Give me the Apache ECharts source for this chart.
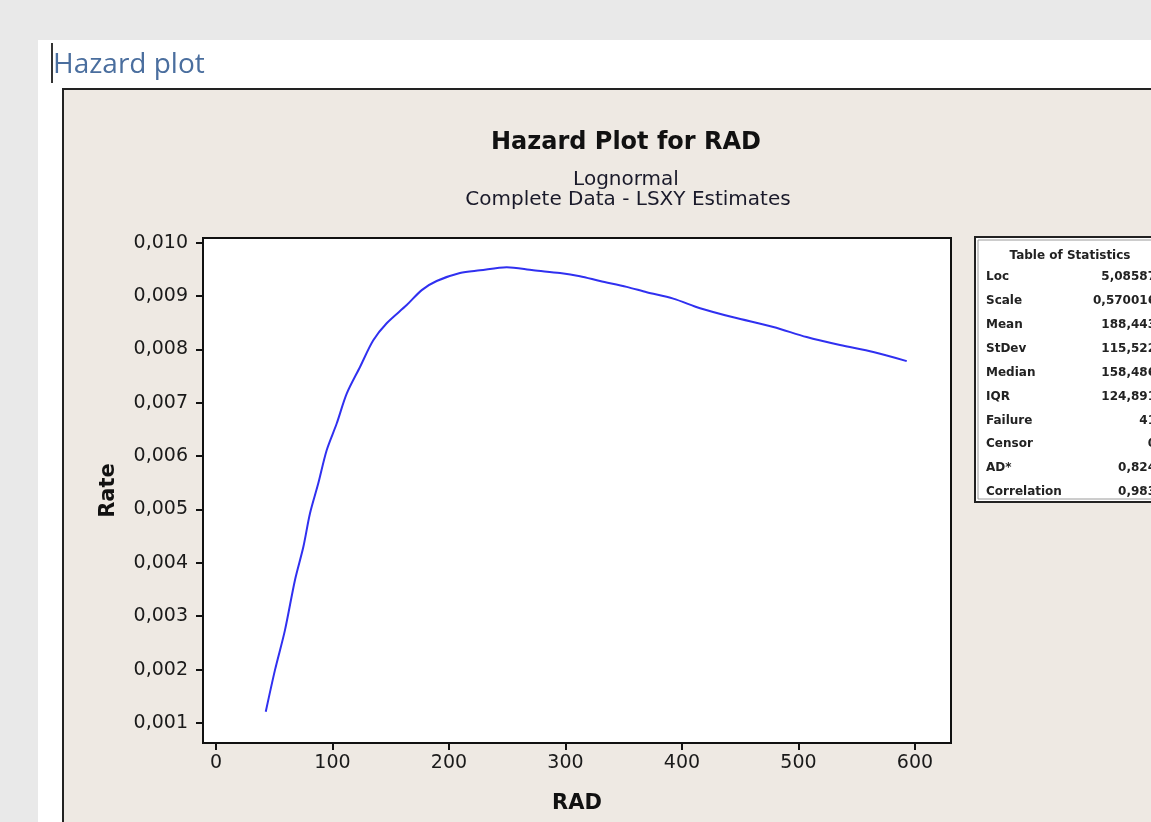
<!DOCTYPE html>
<html>
<head>
<meta charset="utf-8">
<title>Hazard plot</title>
<script src="https://cdn.jsdelivr.net/npm/echarts@6/dist/echarts.min.js"></script>
<style>
html,body{margin:0;padding:0;background:#e9e9e9;}
#chart{width:1151px;height:822px;}
</style>
</head>
<body>
<div id="chart"></div>
<script>
// hazard curve
var radValues  = [42.7, 50.6, 59.2, 67.8, 75, 80.7, 87.8, 95, 103.6, 112.2, 123.6, 135, 146.5, 163.7, 176.6, 189.4, 209.4, 226.6, 249.5, 272.4, 295.3, 312.4, 329.6, 352.5, 369.7, 392.5, 415.5, 444, 478.4, 507, 535.6, 564.2, 592.9];
var rateValues = [0.00121, 0.00199, 0.00274, 0.00368, 0.0043, 0.00493, 0.00549, 0.00611, 0.00661, 0.00717, 0.00767, 0.00817, 0.00849, 0.00883, 0.00911, 0.00928, 0.00943, 0.00948, 0.00954, 0.00948, 0.00943, 0.00937, 0.00928, 0.00917, 0.00907, 0.00895, 0.00877, 0.0086, 0.00842, 0.00823, 0.00808, 0.00795, 0.00778];

var xTicks = [0, 100, 200, 300, 400, 500, 600];
var yTicks = [0.001, 0.002, 0.003, 0.004, 0.005, 0.006, 0.007, 0.008, 0.009, 0.010];

// table of statistics
var statNames  = ['Loc', 'Scale', 'Mean', 'StDev', 'Median', 'IQR', 'Failure', 'Censor', 'AD*', 'Correlation'];
var statValues = ['5,08587', '0,570016', '188,443', '115,522', '158,486', '124,891', '41', '0', '0,824', '0,983'];

var myChart = echarts.init(document.getElementById('chart'));

var points = [];
for (var i = 0; i < radValues.length; i++) {
	points.push([radValues[i], rateValues[i]]);
}

var graphics = [
	// white panel
	{type:'rect', z:-3, shape:{x:38, y:40, width:1200, height:900}, style:{fill:'#ffffff'}},
	// caret
	{type:'rect', z:-2, shape:{x:51, y:43, width:2, height:40}, style:{fill:'#333333'}},
	{type:'text', z:-2, left:53, top:51, style:{text:'Hazard plot', font:'28px "Open Sans", sans-serif', fill:'#4a6e9e'}},
	// beige frame
	{type:'rect', z:-2, shape:{x:63, y:89, width:1200, height:900}, style:{fill:'#eee9e3', stroke:'#222222', lineWidth:2}},
	// titles
	{type:'text', z:1, x:626, y:143, style:{text:'Hazard Plot for RAD', font:'bold 24px "DejaVu Sans"', fill:'#111111', align:'center', verticalAlign:'middle'}},
	{type:'text', z:1, x:626, y:180, style:{text:'Lognormal', font:'20px "DejaVu Sans"', fill:'#1a1a2a', align:'center', verticalAlign:'middle'}},
	{type:'text', z:1, x:628, y:200, style:{text:'Complete Data - LSXY Estimates', font:'20px "DejaVu Sans"', fill:'#1a1a2a', align:'center', verticalAlign:'middle'}},
	// stats table box
	{type:'rect', z:1, shape:{x:975, y:237, width:200, height:265}, style:{fill:'#ffffff', stroke:'#222222', lineWidth:2}},
	{type:'rect', z:1, shape:{x:978, y:240, width:200, height:259}, style:{fill:'none', stroke:'#9a9a9a', lineWidth:1}},
	{type:'text', z:2, x:1070, y:256, style:{text:'Table of Statistics', font:'bold 12px "DejaVu Sans"', fill:'#222222', align:'center', verticalAlign:'middle'}}
];
for (var k = 0; k < statNames.length; k++) {
	var ty = 277 + k * 23.9;
	graphics.push({type:'text', z:2, x:986, y:ty, style:{text:statNames[k], font:'bold 12px "DejaVu Sans"', fill:'#222222', verticalAlign:'middle'}});
	graphics.push({type:'text', z:2, x:1156, y:ty, style:{text:statValues[k], font:'bold 12px "DejaVu Sans"', fill:'#222222', align:'right', verticalAlign:'middle'}});
}

var option = {
	animation: false,
	graphic: graphics,
	grid: {
		left: 203, top: 238, width: 748, height: 505,
		show: true,
		backgroundColor: '#ffffff',
		borderColor: '#111111',
		borderWidth: 2
	},
	xAxis: {
		type: 'value',
		min: -11.16,
		max: 630.9,
		name: 'RAD',
		nameLocation: 'middle',
		nameGap: 50,
		nameTextStyle: {fontFamily:'DejaVu Sans', fontWeight:'bold', fontSize:21, color:'#111111'},
		splitLine: {show:false},
		axisLine: {show:true, onZero:false, lineStyle:{color:'#111111', width:2}},
		axisTick: {show:true, length:7, customValues: xTicks, lineStyle:{color:'#111111', width:2}},
		axisLabel: {customValues: xTicks, margin:11, fontFamily:'DejaVu Sans', fontSize:19, color:'#1a1a1a'}
	},
	yAxis: {
		type: 'value',
		min: 0.000625,
		max: 0.010086,
		name: 'Rate',
		nameLocation: 'middle',
		nameGap: 84,
		nameRotate: 90,
		nameTextStyle: {fontFamily:'DejaVu Sans', fontWeight:'bold', fontSize:21, color:'#111111'},
		splitLine: {show:false},
		axisLine: {show:true, onZero:false, lineStyle:{color:'#111111', width:2}},
		axisTick: {show:true, length:7, customValues: yTicks, lineStyle:{color:'#111111', width:2}},
		axisLabel: {
			customValues: yTicks, margin:15, fontFamily:'DejaVu Sans', fontSize:19, color:'#1a1a1a',
			formatter: function (v) { return v.toFixed(3).replace('.', ','); }
		}
	},
	series: [{
		type: 'line',
		data: points,
		smooth: 0.3,
		showSymbol: false,
		lineStyle: {color:'#3030f0', width:2}
	}]
};
myChart.setOption(option);
</script>
</body>
</html>
